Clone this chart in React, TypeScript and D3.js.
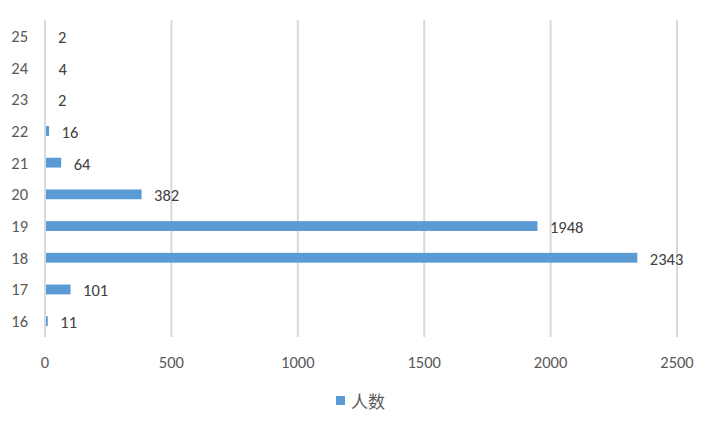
import React from "react";
import * as d3 from "d3";

const categories = ["16", "17", "18", "19", "20", "21", "22", "23", "24", "25"];
const values = [11, 101, 2343, 1948, 382, 64, 16, 2, 4, 2];
const xTicks = [0, 500, 1000, 1500, 2000, 2500];
const seriesName = "人数";

export default function App() {
  const W = 714, H = 427;
  const left = 45, right = 677, top = 20, bottom = 337;
  const x = d3.scaleLinear().domain([0, 2500]).range([left, right]);
  const y = d3.scaleBand().domain([...categories].reverse()).range([top, bottom]).paddingInner(0.69).paddingOuter(0.345);
  const font = "Calibri, Carlito, 'Liberation Sans', Arial, sans-serif";
  const textColor = "#595959";
  const fs = 16.5;
  return (
    <svg width={W} height={H} style={{ position: "absolute", left: 0, top: 0, background: "#fff" }}>
      {xTicks.map((t) => (
        <line key={t} x1={x(t)} x2={x(t)} y1={top} y2={bottom} stroke="#D9D9D9" strokeWidth={2} />
      ))}
      {categories.map((c, i) => {
        const yc = (y(c) as number) + y.bandwidth() / 2;
        return (
          <g key={c}>
            <rect x={x(0) + 1} y={y(c)} width={Math.max(0, x(values[i]) - x(0) - 1)} height={y.bandwidth()} fill="#5B9BD5" />
            <text x={x(values[i]) + 12.5} y={yc + 1} dominantBaseline="central" fontSize={fs} fill="#404040" fontFamily={font}>
              {values[i]}
            </text>
            <text x={28} y={yc} textAnchor="end" dominantBaseline="central" fontSize={fs} fill={textColor} fontFamily={font}>
              {c}
            </text>
          </g>
        );
      })}
      {xTicks.map((t) => (
        <text key={t} x={x(t)} y={362} textAnchor="middle" dominantBaseline="central" fontSize={fs} fill={textColor} fontFamily={font}>
          {t}
        </text>
      ))}
      <rect x={336} y={396} width={9} height={9} fill="#5B9BD5" />
      <text x={351} y={400.5} dominantBaseline="central" fontSize={17} fill={textColor} fontFamily="'Noto Sans CJK SC', sans-serif">
        {seriesName}
      </text>
    </svg>
  );
}
